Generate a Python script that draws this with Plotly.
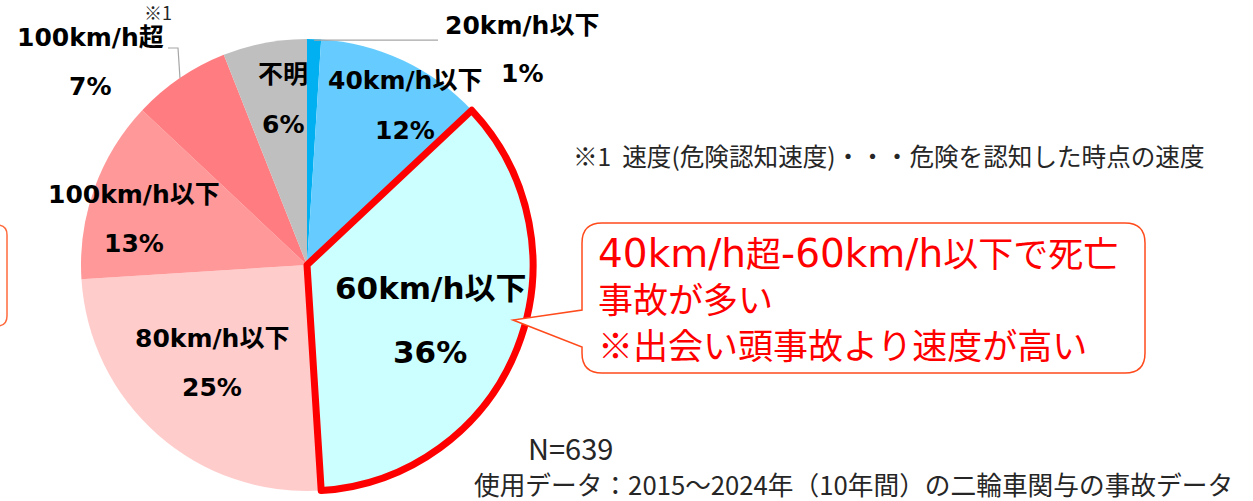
import math
import plotly.graph_objects as go

W, H = 1253, 501

# ---------------- data ----------------
categories = ["20km/h以下", "40km/h以下", "60km/h以下", "80km/h以下",
              "100km/h以下", "100km/h超", "不明"]
shares = [1, 12, 36, 25, 13, 7, 6]          # percent of N=639
sample_size = 639
note_text = "※1\u00a0\u00a0速度(危険認知速度)・・・危険を認知した時点の速度"
callout_lines = ["40km/h超-60km/h以下で死亡", "事故が多い", "※出会い頭事故より速度が高い"]
footer_text = "使用データ：2015～2024年（10年間）の二輪車関与の事故データ"

# ---------------- style ----------------
colors = ["#00B0F0", "#66CCFF", "#CCFFFF", "#FFCCCC", "#FF9999", "#FF7C80", "#BFBFBF"]
highlight = 2
# pie geometry (pixels)
CX, CY, R = 307, 265, 226
# label placement: angular offset from slice mid-angle (deg), radial fraction, line gap, font size
lab_dtheta = [43.25, 6.2, 2.4, 2.7, -4.8, -12.7, 2.7]
lab_frac = [1.347, 0.829, 0.598, 0.601, 0.793, 1.312, 0.738]
lab_gap = [48, 50, 64, 49, 49, 49, 50]
lab_size = [25, 25, 31, 25, 25, 25, 25]

LAT = "DejaVu Sans, Noto Sans CJK JP"
CJK = "Noto Sans CJK JP"


def px(x):
    return x / W


def py(y):
    return 1 - y / H


fig = go.Figure()

dom = dict(x=[(CX - R) / W, (CX + R) / W], y=[1 - (CY + R) / H, 1 - (CY - R) / H])

fig.add_trace(go.Pie(
    labels=categories, values=shares, sort=False, direction="clockwise", rotation=0,
    marker=dict(colors=colors, line=dict(width=0)),
    textinfo="none", hoverinfo="label+percent", showlegend=False, domain=dom,
))
# overlay trace drawing the red outline of the highlighted slice
fig.add_trace(go.Pie(
    labels=categories, values=shares, sort=False, direction="clockwise", rotation=0,
    marker=dict(colors=["rgba(0,0,0,0)"] * len(shares),
                line=dict(color="#FF0000",
                          width=[7 if i == highlight else 0 for i in range(len(shares))])),
    textinfo="none", hoverinfo="skip", showlegend=False, domain=dom,
))

total = sum(shares)
cum = 0
mids = []
for v in shares:
    mids.append((cum + v / 2) / total * 360)
    cum += v

annotations = []
for i, (cat, v) in enumerate(zip(categories, shares)):
    th = math.radians(mids[i] + lab_dtheta[i])
    bx = CX + R * lab_frac[i] * math.sin(th)
    by = CY - R * lab_frac[i] * math.cos(th)
    g = lab_gap[i] / 2
    for txt, yy in ((cat, by - g), (f"{v}%", by + g)):
        annotations.append(dict(
            x=px(bx), y=py(yy), xref="paper", yref="paper", text=txt, showarrow=False,
            xanchor="center", yanchor="middle", borderpad=0,
            font=dict(family=LAT, size=lab_size[i], color="#000000", weight="bold")))

# footnote marker near 100km/h超
annotations.append(dict(x=px(143), y=py(12), xref="paper", yref="paper", text="※1",
                        showarrow=False, xanchor="left", yanchor="middle", borderpad=0,
                        font=dict(family=CJK, size=18, color="#262626")))
# note
annotations.append(dict(x=px(571), y=py(155), xref="paper", yref="paper", text=note_text,
                        showarrow=False, xanchor="left", yanchor="middle",
                        font=dict(family=CJK, size=24.6, color="#262626")))


def latin_span(s, size):
    # enlarge the Latin runs (wide Latin glyphs as in the original font)
    out, buf, is_lat = [], "", None
    for ch in s:
        lat = ord(ch) < 0x3000
        if is_lat is None or lat == is_lat:
            buf += ch
        else:
            out.append((buf, is_lat))
            buf = ch
        is_lat = lat
    out.append((buf, is_lat))
    return "".join(f'<span style="font-size:{size}px">{b}</span>' if l else b for b, l in out)


# callout text
for j, (txt, yy, fam) in enumerate(zip(callout_lines, [254, 297, 343], [LAT, CJK, CJK])):
    t = latin_span(txt, 39) if j == 0 else txt
    annotations.append(dict(x=px(596), y=py(yy), xref="paper", yref="paper", text=t,
                            showarrow=False, xanchor="left", yanchor="middle",
                            font=dict(family=fam, size=35, color="#FF0000")))
# footer
annotations.append(dict(x=px(526), y=py(447), xref="paper", yref="paper",
                        text=f"N={sample_size}", showarrow=False, xanchor="left",
                        yanchor="middle", font=dict(family=CJK, size=29, color="#262626")))
annotations.append(dict(x=px(473), y=py(483), xref="paper", yref="paper",
                        text=footer_text, showarrow=False, xanchor="left", borderpad=0,
                        yanchor="middle", font=dict(family=CJK, size=25.7, color="#262626")))


def path(points_cmds):
    out = []
    for c in points_cmds:
        cmd, pts = c[0], c[1:]
        out.append(cmd + " " + " ".join(f"{px(x):.5f},{py(y):.5f}" for x, y in pts))
    return " ".join(out)


# callout bubble
L, T, Rr, B, rc = 582, 223, 1145, 373, 20
tip = (513, 320)
bubble = path([
    ("M", (L + rc, T)), ("L", (Rr - rc, T)), ("Q", (Rr, T), (Rr, T + rc)),
    ("L", (Rr, B - rc)), ("Q", (Rr, B), (Rr - rc, B)), ("L", (L + rc, B)),
    ("Q", (L, B), (L, B - rc)), ("L", (L, 347)), ("L", tip), ("L", (L, 310)),
    ("L", (L, T + rc)), ("Q", (L, T), (L + rc, T)),
]) + " Z"
shapes = [dict(type="path", path=bubble, xref="paper", yref="paper", layer="above",
               fillcolor="#FFFFFF", line=dict(color="#FF4A1C", width=1.5))]
# partial bubble at left edge
left_b = path([("M", (-40, 225)), ("L", (-3, 225)), ("Q", (7, 225), (7, 235)),
               ("L", (7, 316)), ("Q", (7, 326), (-3, 326)), ("L", (-40, 326))])
shapes.append(dict(type="path", path=left_b, xref="paper", yref="paper", layer="above",
                   line=dict(color="#FF6A3D", width=1.5)))


# leader lines
def arc_pt(deg):
    t = math.radians(deg)
    return CX + R * math.sin(t), CY - R * math.cos(t)


ax0, ay0 = arc_pt(mids[0])
shapes.append(dict(type="path", xref="paper", yref="paper", layer="above",
                   path=path([("M", (ax0, ay0 + 1)), ("L", (438, ay0 + 1))]),
                   line=dict(color="#A6A6A6", width=1.2)))
ax5, ay5 = arc_pt(mids[5])
shapes.append(dict(type="path", xref="paper", yref="paper", layer="above",
                   path=path([("M", (ax5, ay5)), ("L", (178, 48)), ("L", (168, 48))]),
                   line=dict(color="#A6A6A6", width=1.2)))

fig.update_layout(
    width=W, height=H, margin=dict(l=0, r=0, t=0, b=0),
    paper_bgcolor="#FFFFFF", plot_bgcolor="#FFFFFF",
    annotations=annotations, shapes=shapes, showlegend=False,
)

fig.write_html("out.html")
